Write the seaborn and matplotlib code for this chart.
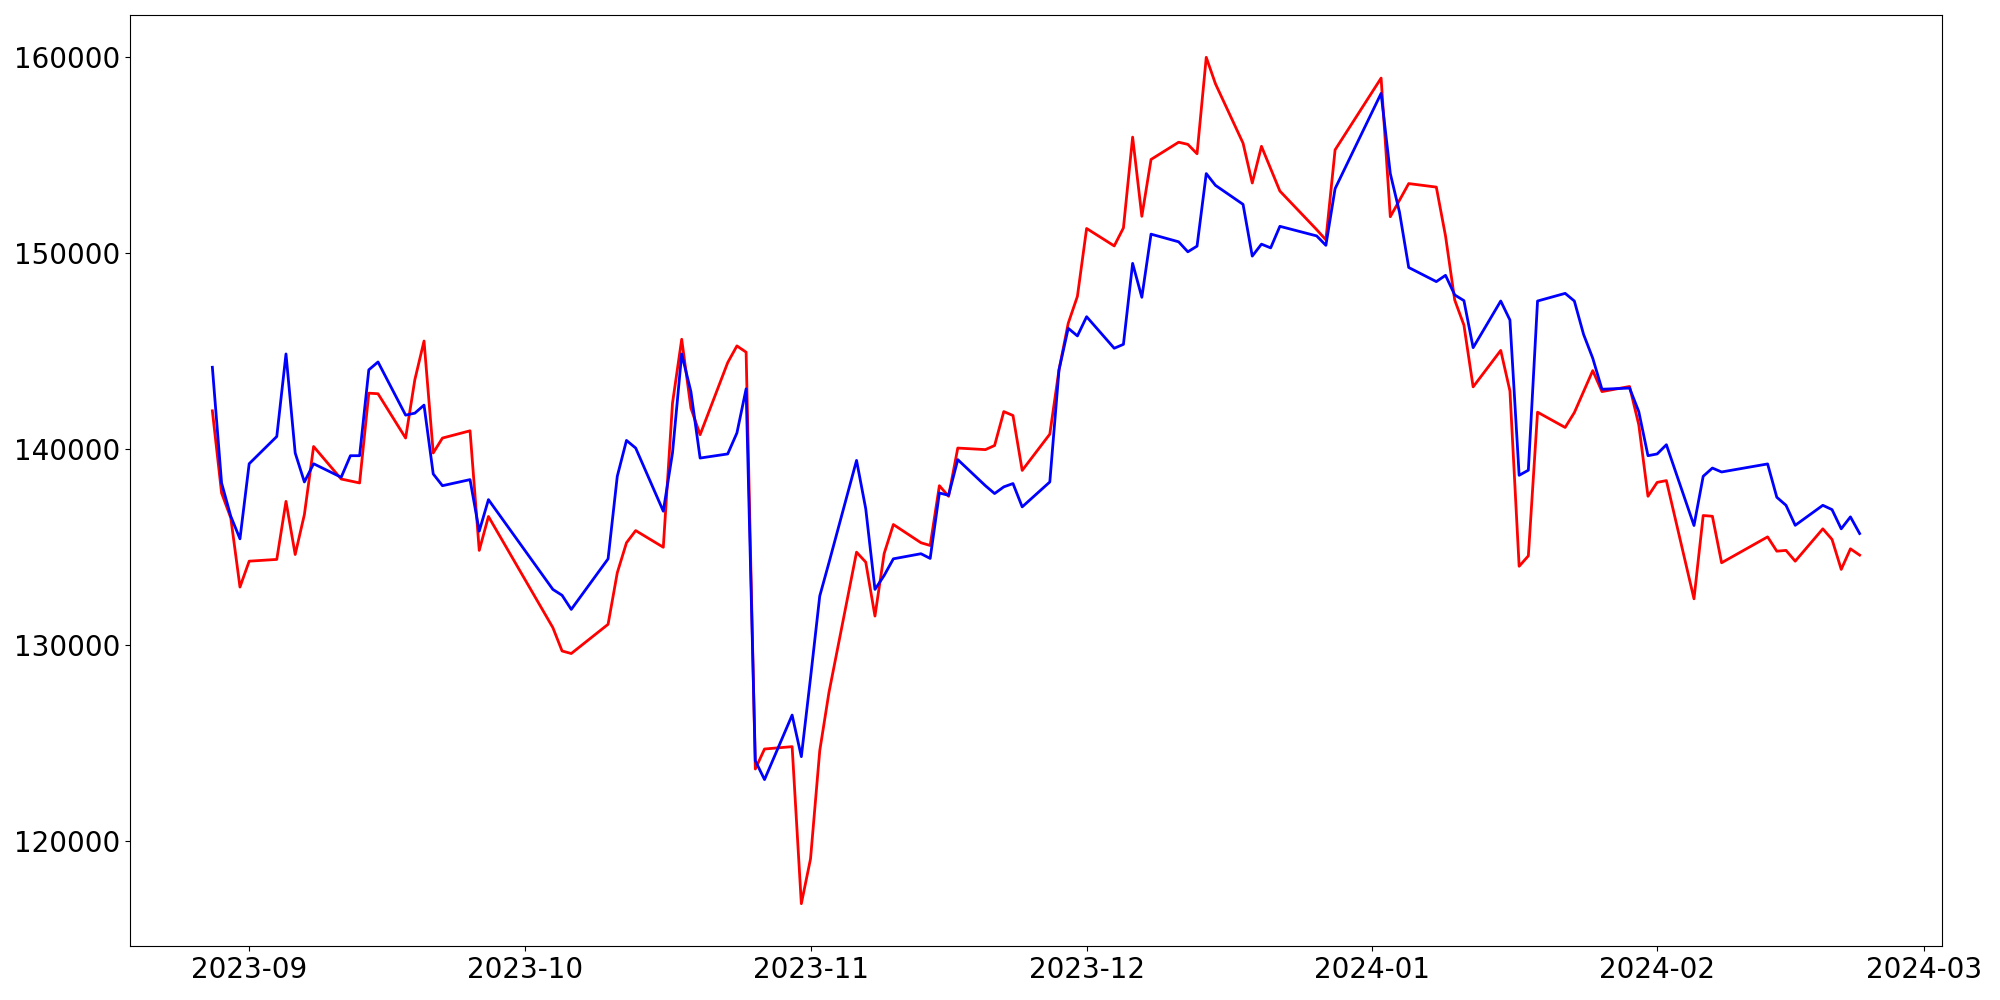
import pandas as pd
import matplotlib
matplotlib.use("Agg")
import matplotlib.pyplot as plt
import seaborn as sns

# trading days (Korean market holidays removed)
holidays = ["2023-09-28", "2023-09-29", "2023-10-02", "2023-10-03", "2023-10-09",
            "2023-12-25", "2023-12-29", "2024-01-01", "2024-02-09", "2024-02-12"]
dates = pd.bdate_range("2023-08-28", "2024-02-23")
dates = dates[~dates.isin(pd.to_datetime(holidays))]

red_values = [
    141960, 137770, 136500, 132970, 134290, 134380, 137340, 134630, 136670, 140140,
    138480, 138380, 138280, 142860, 142830, 140570, 143540, 145520, 139810, 140570,
    140940, 134840, 136570,
    130900, 129710, 129580, 131070, 133700, 135230, 135850, 135000, 142350, 145610,
    142100, 140740, 144420, 145270, 144950, 123690, 124710, 124830, 116820,
    119110, 124620, 127590, 134750, 134240, 131490, 134680, 136160, 135230, 135090,
    138140, 137600, 140060, 139980, 140190, 141920, 141720, 138920, 140770, 144050,
    146420, 147800,
    151260, 150370, 151290, 155920, 151880, 154780, 155660, 155550, 155070, 159990,
    158640, 155610, 153580, 155450, 154310, 153170, 151200, 150680, 155270,
    158930, 151860, 152700, 153550, 153370, 150880, 147610, 146330, 143180, 145040,
    142970, 134030, 134560, 141890, 141110, 141870, 142940, 144010, 142940, 143200,
    141250, 137600,
    138310, 138400, 132370, 136620, 136580, 134210, 135530, 134800, 134840, 134290,
    135940, 135400, 133870, 134920, 134600,
]

blue_values = [
    144180, 138280, 136580, 135430, 139260, 140650, 144860, 139810, 138330, 139260,
    138570, 139670, 139670, 144050, 144450, 141740, 141840, 142250, 138740, 138140,
    138450, 135820, 137430,
    132850, 132550, 131830, 134410, 138620, 140450, 140060, 136840, 139810, 144860,
    142940, 139550, 139760, 140830, 143080, 124110, 123150, 126440, 124320,
    128340, 132510, 134210, 139430, 136960, 132850, 133560, 134410, 134670, 134430,
    137770, 137650, 139470, 138140, 137740, 138080, 138250, 137060, 138330, 144050,
    146170, 145780,
    146760, 145150, 145350, 149480, 147750, 150970, 150580, 150070, 150360, 154060,
    153460, 152490, 149850, 150460, 150270, 151370, 150880, 150400, 153290,
    158150, 154060, 152090, 149270, 148550, 148870, 147870, 147580, 145180, 147560,
    146590, 138670, 138930, 147560, 147950, 147560, 145860, 144640, 143060, 143120,
    141920, 139670,
    139760, 140230, 136110, 138620, 139040, 138840, 139250, 137550, 137140, 136120,
    137140, 136920, 135940, 136550, 135700,
]

df = pd.DataFrame({"date": dates, "red": red_values, "blue": blue_values})

fig, ax = plt.subplots(figsize=(20, 10), dpi=100)
fig.subplots_adjust(left=0.065, right=0.971, bottom=0.054, top=0.985)

sns.lineplot(data=df, x="date", y="red", color="red", linewidth=2, ax=ax)
sns.lineplot(data=df, x="date", y="blue", color="blue", linewidth=2, ax=ax)

ax.set_xlabel("")
ax.set_ylabel("")
ax.ticklabel_format(axis="y", style="plain", useOffset=False)
ax.tick_params(labelsize=20)

plt.savefig("out.png", dpi=100)
plt.close()
